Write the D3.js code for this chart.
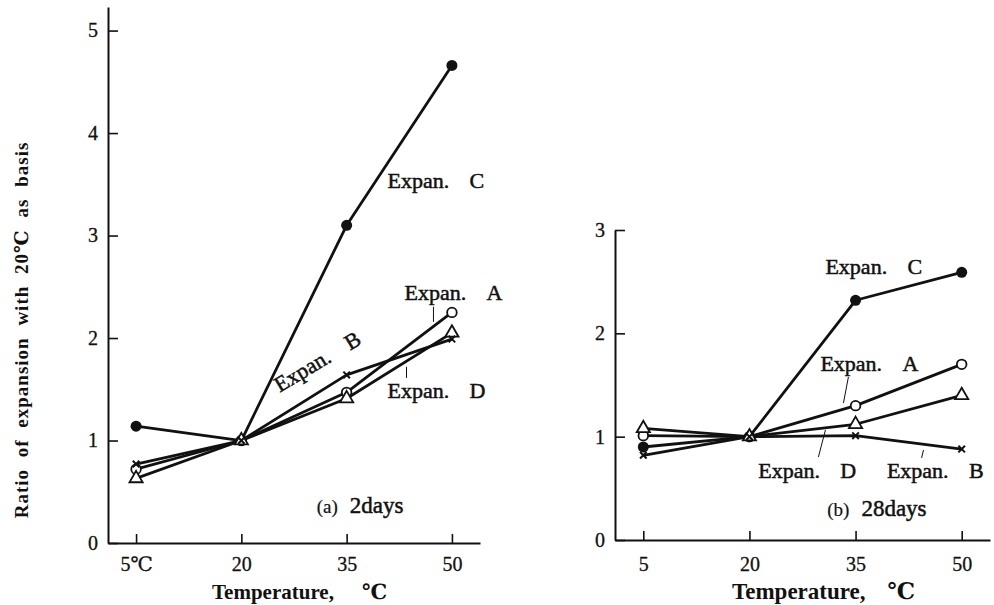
<!DOCTYPE html>
<html><head><meta charset="utf-8">
<script src="https://cdn.jsdelivr.net/npm/d3@7"></script>
<style>
body{margin:0;background:#fff;}
svg{display:block;}
text{font-family:"Liberation Serif","DejaVu Serif",serif;fill:#111;}
</style></head>
<body>
<svg id="chart" width="994" height="605"></svg>
<script>
// ---- data ----
const temps = [5, 20, 35, 50];
const xTickLabelsA = ["5℃", "20", "35", "50"];
const xTickLabelsB = ["5", "20", "35", "50"];
const yTicksA = [0, 1, 2, 3, 4, 5];
const yTicksB = [0, 1, 2, 3];
// (a) 2 days
const expA_2 = [0.72, 1.0, 1.47, 2.25];
const expB_2 = [0.77, 1.0, 1.64, 1.99];
const expC_2 = [1.14, 1.0, 3.10, 4.66];
const expD_2 = [0.63, 1.0, 1.41, 2.05];
// (b) 28 days
const expA_28 = [1.01, 1.0, 1.30, 1.70];
const expB_28 = [0.82, 1.0, 1.01, 0.88];
const expC_28 = [0.90, 1.0, 2.32, 2.59];
const expD_28 = [1.08, 1.0, 1.12, 1.40];

const svg = d3.select("#chart");
const ink = "#111";
const SERIF = '"Liberation Serif", "DejaVu Serif", serif';

function drawPanel(cfg) {
  const x = d3.scaleLinear().domain([1, 54]).range(cfg.xRange);
  const y = d3.scaleLinear().domain(cfg.yDomain).range(cfg.yRange);
  const g = svg.append("g");

  // axes
  const xAxis = d3.axisBottom(x).tickValues(temps)
    .tickFormat((d, i) => cfg.xLabels[i]).tickSizeInner(-9).tickSizeOuter(0).tickPadding(cfg.xPad);
  const yAxis = d3.axisLeft(y).tickValues(cfg.yTicks).tickFormat(d3.format("d"))
    .tickSizeInner(-10).tickSizeOuter(0).tickPadding(10);
  const gx = g.append("g").attr("transform", `translate(0,${cfg.yRange[0]})`).call(xAxis);
  const gy = g.append("g").attr("transform", `translate(${cfg.xRange[0]},0)`).call(yAxis);
  [gx, gy].forEach(a => {
    a.attr("font-family", SERIF).attr("font-size", 20);
    a.select(".domain").attr("stroke", ink).attr("stroke-width", 2);
    a.selectAll(".tick line").attr("stroke", ink).attr("stroke-width", 1.6);
    a.selectAll(".tick text").attr("font-family", SERIF).style("font-family", SERIF)
      .style("font-size", "20px").attr("fill", ink).attr("stroke", ink).attr("stroke-width", 0.3);
  });

  const line = d3.line().x((d, i) => x(temps[i])).y(d => y(d));
  const series = cfg.series;
  series.forEach(s => {
    g.append("path").datum(s.values).attr("d", line)
      .attr("fill", "none").attr("stroke", ink).attr("stroke-width", 2.8)
      .attr("stroke-linejoin", "round");
  });
  series.forEach(s => {
    const pts = g.selectAll(null).data(s.values).enter();
    if (s.marker === "filled") {
      pts.append("circle").attr("cx", (d, i) => x(temps[i])).attr("cy", d => y(d))
        .attr("r", 5.5).attr("fill", ink);
    } else if (s.marker === "open") {
      pts.append("circle").attr("cx", (d, i) => x(temps[i])).attr("cy", d => y(d))
        .attr("r", 4.8).attr("fill", "#fff").attr("stroke", ink).attr("stroke-width", 1.8);
    } else if (s.marker === "tri") {
      pts.append("path").attr("d", d3.symbol(d3.symbolTriangle, 75))
        .attr("transform", (d, i) => `translate(${x(temps[i])},${y(d)})`)
        .attr("fill", "#fff").attr("stroke", ink).attr("stroke-width", 1.8);
    } else if (s.marker === "x") {
      pts.append("path").attr("d", d3.symbol(d3.symbolX, 30))
        .attr("transform", (d, i) => `translate(${x(temps[i])},${y(d)})`)
        .attr("fill", "none").attr("stroke", ink).attr("stroke-width", 2);
    }
  });

  // annotations
  cfg.labels.forEach(l => {
    const t = g.append("text")
      .attr("transform", `translate(${x(l.t)},${y(l.v)}) rotate(${l.rot || 0})`)
      .style("font-size", "22px").attr("stroke", ink).attr("stroke-width", 0.5);
    t.append("tspan").attr("x", 0).text(l.text);
    t.append("tspan").attr("x", 82).text(l.letter);
  });
  cfg.leaders.forEach(p => {
    g.append("line").attr("x1", x(p[0])).attr("y1", y(p[1])).attr("x2", x(p[2])).attr("y2", y(p[3]))
      .attr("stroke", ink).attr("stroke-width", 1);
  });
  const pl = g.append("text").attr("x", x(cfg.panel.t)).attr("y", y(cfg.panel.v))
    .style("font-size", "22px").attr("stroke", ink).attr("stroke-width", 0.5);
  pl.append("tspan").text(cfg.panel.a).style("font-size", "19px").attr("stroke-width", 0.2);
  pl.append("tspan").attr("dx", 12).text(cfg.panel.b).style("font-size", "23px");

  const tt = g.append("text").attr("x", cfg.titleX).attr("y", 599)
    .style("font-size", cfg.titleSize + "px").style("font-weight", "bold");
  tt.append("tspan").text("Temperature,");
  tt.append("tspan").attr("dx", cfg.titleGap).text("℃");
}

drawPanel({
  xRange: [108, 480], yRange: [543, 7], yDomain: [0, 5.23], yTicks: yTicksA,
  xLabels: xTickLabelsA, xPad: 14,
  series: [
    {values: expC_2, marker: "filled"},
    {values: expA_2, marker: "open"},
    {values: expD_2, marker: "tri"},
    {values: expB_2, marker: "x"}
  ],
  labels: [
    {text: "Expan.", letter: "C", t: 40.83, v: 3.467},
    {text: "Expan.", letter: "A", t: 43.25, v: 2.373},
    {text: "Expan.", letter: "D", t: 40.83, v: 1.416},
    {text: "Expan.", letter: "B", t: 25.48, v: 1.465, rot: -31}
  ],
  leaders: [[47.37, 2.305, 47.37, 2.158], [43.53, 1.719, 43.53, 1.611]],
  panel: {a: "(a)", b: "2days", t: 30.74, v: 0.293},
  titleX: 212, titleSize: 21, titleGap: 28
});

drawPanel({
  xRange: [615, 990], yRange: [540, 230], yDomain: [0, 3], yTicks: yTicksB,
  xLabels: xTickLabelsB, xPad: 17,
  series: [
    {values: expC_28, marker: "filled"},
    {values: expA_28, marker: "open"},
    {values: expD_28, marker: "tri"},
    {values: expB_28, marker: "x"}
  ],
  labels: [
    {text: "Expan.", letter: "C", t: 30.74, v: 2.575},
    {text: "Expan.", letter: "A", t: 30.03, v: 1.636},
    {text: "Expan.", letter: "D", t: 21.25, v: 0.600},
    {text: "Expan.", letter: "B", t: 39.43, v: 0.600}
  ],
  leaders: [[33.99, 1.578, 33.29, 1.326], [30.74, 1.065, 29.75, 0.803], [44.6, 0.871, 44.33, 0.794]],
  panel: {a: "(b)", b: "28days", t: 31.0, v: 0.232},
  titleX: 732, titleSize: 23, titleGap: 22
});

// y-axis title
svg.append("text").attr("transform", "translate(28,330) rotate(-90)")
  .attr("text-anchor", "middle").style("font-size", "19px").style("font-weight", "bold")
  .style("letter-spacing", "1px").style("word-spacing", "6px")
  .text("Ratio of expansion with 20℃ as basis");
</script>
</body></html>
